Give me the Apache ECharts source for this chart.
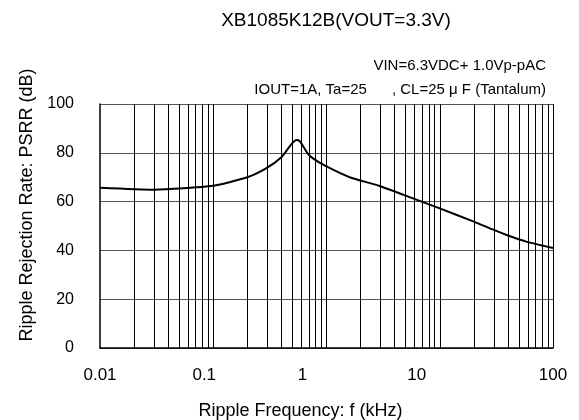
<!DOCTYPE html>
<html>
<head>
<meta charset="utf-8">
<script src="https://cdn.jsdelivr.net/npm/echarts@6/dist/echarts.min.js"></script>
<style>
html,body{margin:0;padding:0;background:#fff;}
#chart{width:579px;height:420px;}
</style>
</head>
<body>
<div id="chart"></div>
<script>
// ---- data ----
const freqKHz = [0.01, 0.03, 0.1, 0.2, 0.29, 0.4, 0.54, 0.58, 0.68, 0.76, 0.97, 1.6, 2.9, 5.8, 10, 20, 30, 39, 58, 100];
const psrrDb  = [65.7, 64.9, 66.5, 70.0, 73.5, 78.2, 85.2, 84.8, 79.8, 77.7, 74.7, 70.0, 66.5, 61.3, 57.2, 51.8, 48.4, 46.3, 43.6, 41.0];
const xTickLabels = ['0.01', '0.1', '1', '10', '100'];
const yTickLabels = ['0', '20', '40', '60', '80', '100'];
const titleText = 'XB1085K12B(VOUT=3.3V)';
const condLine1 = 'VIN=6.3VDC+ 1.0Vp-pAC';
const condLine2 = 'IOUT=1A, Ta=25      , CL=25 \u03bc F (Tantalum)';
const xName = 'Ripple Frequency: f (kHz)';
const yName = 'Ripple Rejection Rate: PSRR (dB)';
const decades = [0.01, 0.1, 1, 10];
const multipliers = [2, 3, 4, 5, 6, 7, 8, 9, 10];

// vertical log grid lines (axis values)
const vLines = [];
decades.forEach(d => multipliers.forEach(m => vLines.push({ xAxis: +(d * m).toPrecision(6) })));

const FONT = 'Liberation Sans, Arial, sans-serif';
// layout: label nudges (px) to mimic the reference's label placement
const labelNudge = [0, 9, 24, 23, 0];
const rich = {};
labelNudge.forEach((n, i) => {
  rich['s' + i] = { fontSize: 17, color: '#000', fontFamily: FONT, padding: [0, n * 2, 0, 0] };
});

const chart = echarts.init(document.getElementById('chart'), null, { renderer: 'canvas' });
chart.setOption({
  animation: false,
  backgroundColor: '#fff',
  grid: { left: 100, right: 26, top: 104, bottom: 72, containLabel: false, outerBoundsMode: 'none' },
  graphic: [
    { type: 'text', x: 336, y: 21, style: { text: titleText, fontSize: 19, fontFamily: FONT, fill: '#000', align: 'center', verticalAlign: 'middle' } },
    { type: 'text', x: 546, y: 66, style: { text: condLine1, fontSize: 15, fontFamily: FONT, fill: '#000', align: 'right', verticalAlign: 'middle' } },
    { type: 'text', x: 546, y: 90, style: { text: condLine2, fontSize: 15, fontFamily: FONT, fill: '#000', align: 'right', verticalAlign: 'middle' } }
  ],
  xAxis: {
    type: 'log', logBase: 10, min: 0.01, max: 100,
    name: xName, nameLocation: 'middle', nameGap: 54,
    nameTextStyle: { fontSize: 18, fontFamily: FONT, color: '#000', padding: [0, 52, 0, 0] },
    axisLine: { show: true, lineStyle: { color: '#000', width: 1.5 } },
    axisTick: { show: false },
    splitLine: { show: false },
    axisLabel: {
      margin: 19,
      formatter: (v) => {
        const k = Math.round(Math.log10(v)) + 2;
        return '{s' + k + '|' + xTickLabels[k] + '}';
      },
      rich: rich
    }
  },
  yAxis: {
    type: 'value', min: 0, max: 100, interval: 20,
    name: yName, nameLocation: 'middle', nameGap: 62,
    nameTextStyle: { fontSize: 18, fontFamily: FONT, color: '#000', padding: [0, 0, 0, 42] },
    axisLine: { show: true, lineStyle: { color: '#000', width: 1.5 } },
    axisTick: { show: false },
    splitLine: { show: true, lineStyle: { color: '#555', width: 1 } },
    axisLabel: {
      margin: 26, fontSize: 16, fontFamily: FONT, color: '#000',
      formatter: (v) => yTickLabels[Math.round(v / 20)]
    }
  },
  series: [{
    type: 'line',
    data: freqKHz.map((f, i) => [f, psrrDb[i]]),
    showSymbol: false,
    smooth: 0.2,
    lineStyle: { color: '#000', width: 2 },
    markLine: {
      silent: true, symbol: 'none', animation: false,
      label: { show: false },
      lineStyle: { color: '#000', width: 1, type: 'solid' },
      data: vLines
    },
    z: 3
  }]
});
</script>
</body>
</html>
